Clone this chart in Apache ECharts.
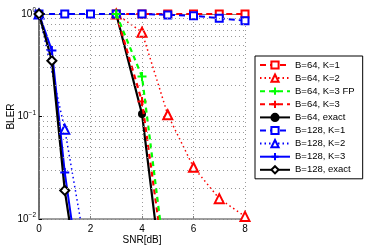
<!DOCTYPE html>
<html><head><meta charset="utf-8">
<script src="https://cdn.jsdelivr.net/npm/echarts@6/dist/echarts.min.js"></script>
<style>html,body{margin:0;padding:0;background:#fff}#c{width:374px;height:249px}</style>
</head><body><div id="c"></div>
<script>
// ---- data ----
const snr64 = [3, 4, 5, 6, 7, 8];
const b64k1 = [1, 1, 1, 1, 1, 1];
const b64k2 = [1, 0.665, 0.104, 0.032, 0.0158, 0.0106];
const snr64k3 = [3, 4, 5];
const b64k3fp = [1, 0.245, 0.0025];
const b64k3 = [1, 0.14, 0.0021];
const b64exact = [1, 0.106, 0.00095];
const snr128k1 = [0, 1, 2, 3, 4, 5, 6, 7, 8];
const b128k1 = [1, 1, 1, 1, 1, 0.98, 0.963, 0.908, 0.86];
const snr128k2 = [0, 1, 2];
const b128k2 = [1, 0.075, 0.0027];
const snr128h = [0, 0.5, 1, 1.5];
const b128k3 = [1, 0.44, 0.0285, 0.0037];
const b128exact = [1, 0.35, 0.019, 0.0029];
const xTicks = [0, 2, 4, 6, 8];
const yMinorGrid = [0.02,0.03,0.04,0.05,0.06,0.07,0.08,0.09,0.2,0.3,0.4,0.5,0.6,0.7,0.8,0.9];

const pair = (xs, ys) => xs.map((x, i) => [x, ys[i]]);
const plus = 'path://M5,0 L5,10 M0,5 L10,5';
const FONT = 'Liberation Sans';

function ser(name, xs, ys, color, type, width, symbol, size, filled, z) {
  return {
    name, type: 'line', data: pair(xs, ys), z: z || 2,
    symbol, symbolSize: size, showAllSymbol: true, clip: true,
    lineStyle: { color, type, width },
    itemStyle: { color: filled ? color : '#fff', borderColor: color, borderWidth: 2 },
    emphasis: { disabled: true }
  };
}
const plusSer = (name, xs, ys, color, type, width, z) => ser(name, xs, ys, color, type, width, plus, 9, true, z);

const series = [
  ser('B=64, K=1', snr64, b64k1, '#ff0000', [6, 4], 2, 'rect', 7, false),
  ser('B=64, K=2', snr64, b64k2, '#ff0000', [1.5, 3], 1.5, 'triangle', 9, false),
  plusSer('B=64, K=3 FP', snr64k3, b64k3fp, '#00ff00', [5, 4], 2.2, 4),
  plusSer('B=64, K=3', snr64k3, b64k3, '#ff0000', [5, 4], 2.2, 3),
  ser('B=64, exact', snr64k3, b64exact, '#000000', 'solid', 2.2, 'circle', 6, true),
  ser('B=128, K=1', snr128k1, b128k1, '#0000ff', [6, 4], 2, 'rect', 7, false),
  ser('B=128, K=2', snr128k2, b128k2, '#0000ff', [1.5, 3], 1.5, 'triangle', 9, false),
  plusSer('B=128, K=3', snr128h, b128k3, '#0000ff', 'solid', 2, 2),
  ser('B=128, exact', snr128h, b128exact, '#000000', 'solid', 2.2, 'diamond', 9, false),
  {
    name: 'grid', type: 'line', data: [], silent: true, z: 1,
    markLine: {
      silent: true, symbol: 'none', animation: false,
      label: { show: false },
      lineStyle: { color: '#9a9a9a', type: [1, 3], width: 1 },
      data: yMinorGrid.map(v => ({ yAxis: v }))
    }
  }
];

const chart = echarts.init(document.getElementById('c'), null, { renderer: 'canvas' });
chart.setOption({
  animation: false,
  backgroundColor: '#fff',
  textStyle: { fontFamily: FONT },
  grid: { left: 39, top: 14, width: 206, height: 205, containLabel: false, outerBoundsMode: 'none' },
  legend: {
    data: series.slice(0, 9).map(s => s.name),
    orient: 'vertical', left: 255, top: 56,
    padding: [4, 8, 4, 4], itemGap: 3.1, itemWidth: 30, itemHeight: 9,
    borderColor: '#000', borderWidth: 1, backgroundColor: '#fff',
    textStyle: { fontFamily: FONT, fontSize: 9.5, lineHeight: 9, color: '#000' },
    selectedMode: false
  },
  xAxis: [{
    type: 'value', min: 0, max: 8, interval: 2,
    name: 'SNR[dB]', nameLocation: 'middle', nameGap: 16, nameMoveOverlap: false,
    nameTextStyle: { fontFamily: FONT, fontSize: 10, color: '#000' },
    axisLine: { show: true, onZero: false, lineStyle: { color: '#808080', width: 1.5 } },
    axisTick: { show: true, inside: true, length: 3, lineStyle: { color: '#808080' } },
    axisLabel: { fontFamily: FONT, fontSize: 10, color: '#000', margin: 5,
      formatter: v => xTicks.includes(v) ? String(v) : '' },
    splitLine: { show: true, lineStyle: { color: '#9a9a9a', type: [1, 3], width: 1 } }
  }, {
    type: 'value', min: 0, max: 8, position: 'top',
    axisLine: { show: true, lineStyle: { color: '#808080', width: 1 } },
    axisTick: { show: false }, axisLabel: { show: false }, splitLine: { show: false }
  }],
  yAxis: [{
    type: 'log', logBase: 10, min: 0.01, max: 1,
    name: 'BLER', nameLocation: 'middle', nameGap: 23, nameMoveOverlap: false,
    nameTextStyle: { fontFamily: FONT, fontSize: 10, color: '#000' },
    axisLine: { show: true, lineStyle: { color: '#000', width: 1.5 } },
    axisTick: { show: true, inside: true, length: 3, lineStyle: { color: '#000' } },
    axisLabel: {
      margin: 3,
      formatter: v => '{b|10}{s|' + String(Math.round(Math.log10(v))).replace('-', '\u2212') + '}',
      rich: {
        b: { fontFamily: FONT, fontSize: 10, color: '#000' },
        s: { fontFamily: FONT, fontSize: 6.5, color: '#000', verticalAlign: 'top', padding: [0, 0, 7, 0] }
      }
    },
    splitLine: { show: true, lineStyle: { color: '#9a9a9a', type: [1, 3], width: 1 } }
  }, {
    type: 'log', logBase: 10, min: 0.01, max: 1, position: 'right',
    axisLine: { show: true, lineStyle: { color: '#808080', width: 1.5 } },
    axisTick: { show: false }, axisLabel: { show: false }, splitLine: { show: false }
  }],
  series
});
</script></body></html>
